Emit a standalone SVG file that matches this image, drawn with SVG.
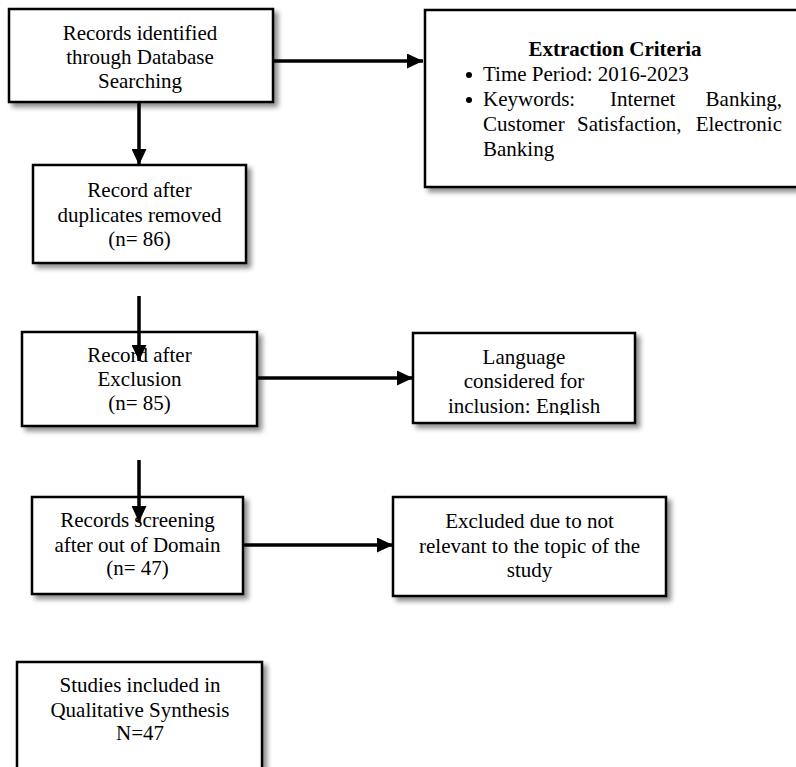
<svg xmlns="http://www.w3.org/2000/svg" width="796" height="767" viewBox="0 0 796 767">
<defs>
<filter id="sh" x="-10%" y="-10%" width="130%" height="130%">
<feDropShadow dx="4" dy="4" stdDeviation="2.5" flood-color="#000" flood-opacity="0.45"/>
</filter>
<marker id="ah" markerUnits="userSpaceOnUse" markerWidth="16" markerHeight="15" refX="16" refY="7.5" orient="auto">
<path d="M0,0 L16,7.5 L0,15 z" fill="#000"/>
</marker>
<clipPath id="c4"><rect x="413" y="333" width="222" height="82"/></clipPath>
</defs>
<style>
.box{fill:#fff;stroke:#000;stroke-width:2.5;filter:url(#sh)}
text{font-family:"Liberation Serif","Times New Roman",serif;font-size:21px;fill:#000}
.c{text-anchor:middle}
.b{font-weight:bold}
.conn line{stroke:#000;stroke-width:3.5;marker-end:url(#ah)}
</style>
<g id="n1">
<rect class="box" x="9" y="9" width="264" height="93"/>
<text class="c" x="140" y="40">Records identified</text>
<text class="c" x="140" y="64">through Database</text>
<text class="c" x="140" y="88">Searching</text>
</g>
<g id="n2">
<rect class="box" x="425" y="10" width="375" height="177"/>
<text class="c b" x="615" y="56">Extraction Criteria</text>
<circle cx="469" cy="75" r="3"/>
<text x="483" y="81">Time Period: 2016-2023</text>
<circle cx="469" cy="100" r="3"/>
<text x="483" y="106">Keywords:</text>
<text x="610" y="106">Internet</text>
<text x="782" y="106" text-anchor="end">Banking,</text>
<text x="483" y="131">Customer</text>
<text x="577" y="131">Satisfaction,</text>
<text x="782" y="131" text-anchor="end">Electronic</text>
<text x="483" y="156">Banking</text>
</g>
<g id="n3">
<rect class="box" x="33" y="165" width="213" height="98"/>
<text class="c" x="139.5" y="197">Record after</text>
<text class="c" x="139.5" y="222">duplicates removed</text>
<text class="c" x="139.5" y="246">(n= 86)</text>
</g>
<g id="n4">
<rect class="box" x="22" y="332" width="235" height="94"/>
<text class="c" x="139.5" y="362">Record after</text>
<text class="c" x="139.5" y="386">Exclusion</text>
<text class="c" x="139.5" y="410">(n= 85)</text>
</g>
<g id="n5">
<rect class="box" x="413" y="333" width="222" height="90"/>
<g clip-path="url(#c4)">
<text class="c" x="524" y="364">Language</text>
<text class="c" x="524" y="388">considered for</text>
<text class="c" x="524" y="413">inclusion: English</text>
</g>
</g>
<g id="n6">
<rect class="box" x="32" y="497" width="211" height="97"/>
<text class="c" x="137.5" y="527">Records screening</text>
<text class="c" x="137.5" y="552">after out of Domain</text>
<text class="c" x="137.5" y="575">(n= 47)</text>
</g>
<g id="n7">
<rect class="box" x="393" y="497" width="273" height="99"/>
<text class="c" x="529.5" y="528">Excluded due to not</text>
<text class="c" x="529.5" y="553">relevant to the topic of the</text>
<text class="c" x="529.5" y="577">study</text>
</g>
<g id="n8">
<rect class="box" x="17" y="662" width="245" height="120"/>
<text class="c" x="140" y="692">Studies included in</text>
<text class="c" x="140" y="717">Qualitative Synthesis</text>
<text class="c" x="140" y="740">N=47</text>
</g>
<g id="connectors" class="conn">
<line x1="273" y1="61" x2="423" y2="61"/>
<line x1="139" y1="102" x2="139" y2="165"/>
<line x1="139" y1="296" x2="139" y2="361"/>
<line x1="257" y1="378" x2="413" y2="378"/>
<line x1="139" y1="460" x2="139" y2="522"/>
<line x1="243" y1="545" x2="393" y2="545"/>
</g>
</svg>
